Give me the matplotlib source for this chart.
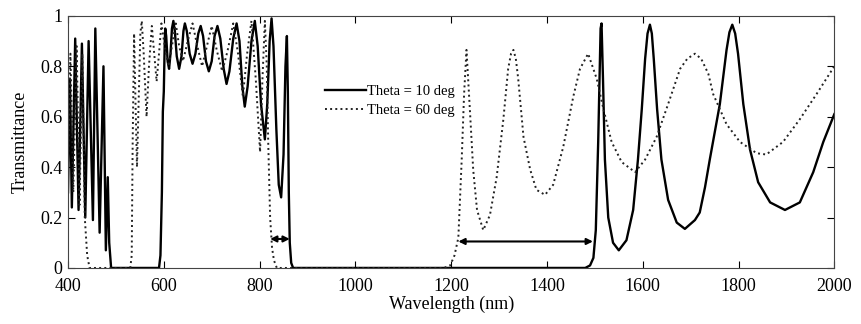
import numpy as np
import matplotlib.pyplot as plt
from matplotlib.ticker import FormatStrFormatter

# Theta = 10 deg (solid)
sol_wl = [400, 404, 408, 415, 422, 429, 436, 443, 452, 457, 466, 474, 479, 483, 486, 490,
          590, 593, 596, 598, 600, 602, 603, 605, 608, 611, 614, 617, 620, 623, 627, 632,
          637, 641, 644, 648, 654, 660, 666, 672, 677, 682, 688, 694, 700, 706, 712, 718,
          725, 731, 737, 745, 752, 758, 764, 769, 775, 783, 790, 796, 803, 811, 816, 821,
          825, 829, 835, 840, 845, 850, 854, 857, 859, 861, 863, 866, 870,
          1480, 1490, 1497, 1502, 1507, 1512, 1514, 1517, 1521, 1528, 1538, 1550, 1566,
          1580, 1590, 1598, 1605, 1610, 1615, 1619, 1623, 1630, 1639, 1653, 1671, 1688,
          1709, 1719, 1730, 1740, 1761, 1775, 1781, 1787, 1793, 1799, 1810, 1824, 1841,
          1866, 1897, 1928, 1956, 1977, 2000]
sol_t = [0.30, 0.75, 0.24, 0.91, 0.23, 0.89, 0.20, 0.90, 0.19, 0.95, 0.14, 0.80, 0.07, 0.36, 0.10, 0.0,
         0.0, 0.05, 0.30, 0.62, 0.70, 0.90, 0.95, 0.92, 0.82, 0.79, 0.85, 0.95, 0.98, 0.94, 0.84, 0.79,
         0.84, 0.94, 0.97, 0.94, 0.85, 0.81, 0.85, 0.93, 0.96, 0.92, 0.82, 0.78, 0.82, 0.92, 0.96, 0.91,
         0.79, 0.73, 0.78, 0.91, 0.97, 0.90, 0.72, 0.64, 0.72, 0.90, 0.98, 0.88, 0.65, 0.51, 0.65, 0.90,
         0.99, 0.88, 0.55, 0.33, 0.28, 0.45, 0.80, 0.92, 0.70, 0.30, 0.10, 0.02, 0.0,
         0.0, 0.01, 0.04, 0.15, 0.50, 0.95, 0.97, 0.75, 0.43, 0.20, 0.10, 0.07, 0.11,
         0.23, 0.43, 0.63, 0.83, 0.93, 0.965, 0.93, 0.83, 0.63, 0.43, 0.27, 0.18, 0.155,
         0.19, 0.22, 0.32, 0.43, 0.65, 0.865, 0.935, 0.965, 0.93, 0.85, 0.65, 0.47, 0.34,
         0.26, 0.23, 0.26, 0.38, 0.50, 0.61]

# Theta = 60 deg (dotted)
dot_wl = [400, 405, 411, 418, 424, 430, 435, 440, 445,
          530, 533, 535, 538, 541, 544, 548, 551, 554, 558, 564, 569, 575, 580, 585, 590,
          595, 602, 610, 617, 625, 632, 640, 650, 660, 670, 680, 690, 700, 711, 722, 733,
          745, 755, 765, 774, 783, 792, 801, 806, 811, 815, 818, 822, 826, 830, 836,
          1185, 1198, 1207, 1215, 1222, 1227, 1232, 1239, 1246, 1254, 1267, 1281, 1295,
          1309, 1319, 1325, 1330, 1335, 1340, 1351, 1365, 1378, 1396, 1413, 1434, 1455,
          1469, 1486, 1504, 1518, 1535, 1556, 1584, 1605, 1629, 1653, 1678, 1693, 1709,
          1722, 1737, 1747, 1775, 1803, 1838, 1858, 1893, 1928, 1963, 2000]
dot_t = [0.40, 0.85, 0.30, 0.88, 0.25, 0.85, 0.20, 0.05, 0.0,
         0.0, 0.05, 0.50, 0.93, 0.65, 0.40, 0.70, 0.93, 0.98, 0.85, 0.60, 0.80, 0.96, 0.85, 0.74, 0.85,
         0.97, 0.88, 0.80, 0.88, 0.97, 0.88, 0.82, 0.90, 0.97, 0.88, 0.80, 0.88, 0.96, 0.86, 0.78, 0.86,
         0.97, 0.85, 0.68, 0.85, 0.98, 0.75, 0.46, 0.75, 0.98, 0.80, 0.50, 0.20, 0.08, 0.03, 0.0,
         0.0, 0.01, 0.05, 0.12, 0.43, 0.69, 0.865, 0.63, 0.39, 0.23, 0.15, 0.21, 0.36,
         0.59, 0.79, 0.85, 0.865, 0.83, 0.75, 0.52, 0.39, 0.31, 0.29, 0.33, 0.48, 0.68,
         0.79, 0.85, 0.75, 0.63, 0.50, 0.42, 0.38, 0.43, 0.52, 0.65, 0.79, 0.83, 0.85,
         0.83, 0.77, 0.69, 0.57, 0.50, 0.455, 0.45, 0.50, 0.59, 0.69, 0.80]

# band-edge shift arrows (start, end, height)
arrows = [(822, 863, 0.115), (1215, 1496, 0.105)]

plt.rcParams['font.family'] = ['Liberation Serif', 'DejaVu Serif']

fig = plt.figure(figsize=(8.61, 3.24), dpi=100)
ax = fig.add_axes([0.079, 0.173, 0.890, 0.778])

ax.plot(sol_wl, sol_t, color='black', lw=1.7, label='Theta = 10 deg')
ax.plot(dot_wl, dot_t, color='#222222', lw=1.4, linestyle=':', label='Theta = 60 deg')

for x0, x1, y in arrows:
    ax.annotate('', xy=(x0, y), xytext=(x1, y),
                arrowprops=dict(arrowstyle='<|-|>', color='black', lw=1.5,
                                mutation_scale=9, shrinkA=0, shrinkB=0))

ax.set_xlim(400, 2000)
ax.set_ylim(0, 1)
ax.set_xticks(np.arange(400, 2001, 200))
ax.set_yticks(np.arange(0, 1.01, 0.2))
ax.yaxis.set_major_formatter(FormatStrFormatter('%g'))
ax.tick_params(direction='in', top=True, right=True, length=5, labelsize=13)
ax.tick_params(axis='x', pad=7)
ax.tick_params(axis='y', pad=4)
for s in ax.spines.values():
    s.set_linewidth(0.8)
    s.set_color('#444444')

ax.set_xlabel('Wavelength (nm)', fontsize=13, labelpad=1)
ax.set_ylabel('Transmittance', fontsize=13, labelpad=8)

ax.legend(loc='upper left', bbox_to_anchor=(0.336, 0.725), frameon=False,
          fontsize=10.5, handlelength=2.8, handletextpad=0.05,
          borderpad=0, borderaxespad=0, labelspacing=0.35)

fig.savefig('out.png', dpi=100)
